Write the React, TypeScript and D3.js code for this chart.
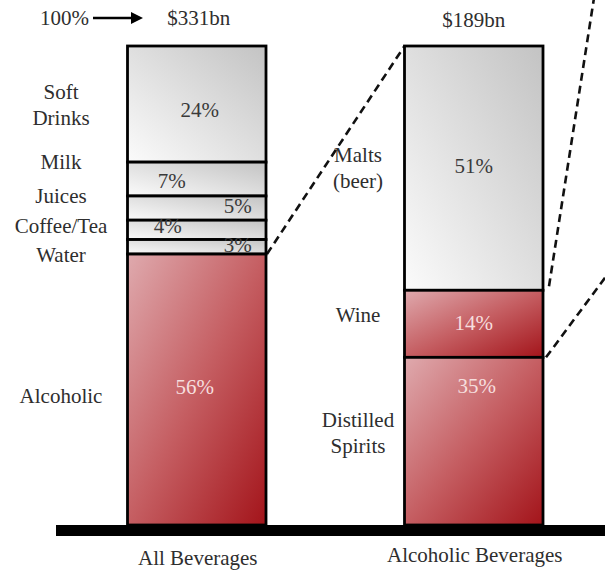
import React from "react";
import * as d3 from "d3";

// Beverage spend, share of total (%)
const allCategories = ["Soft Drinks", "Milk", "Juices", "Coffee/Tea", "Water", "Alcoholic"];
const allValues = [24, 7, 5, 4, 3, 56];
const allTones = ["gray", "gray", "gray", "gray", "gray", "red"];

// Alcoholic beverage spend, share (%)
const alcCategories = ["Malts (beer)", "Wine", "Distilled Spirits"];
const alcValues = [51, 14, 35];
const alcTones = ["gray", "red", "red"];

const barNames = ["All Beverages", "Alcoholic Beverages"];
const barTotals = ["$331bn", "$189bn"];

// category label line breaks
const allLabelLines = [["Soft", "Drinks"], ["Milk"], ["Juices"], ["Coffee/Tea"], ["Water"], ["Alcoholic"]];
const alcLabelLines = [["Malts", "(beer)"], ["Wine"], ["Distilled", "Spirits"]];

const W = 605;
const H = 573;
const FONT = "Liberation Serif, Times New Roman, DejaVu Serif, serif";
const FS = 21;
const TEXT = "#2e2e2e";

const yTop = 46;
const yBase = 525;

// label layout
const allLabelY = [99, 169, 203, 233, 262, 403];
const alcLabelY = [162, 322, 427];
const allPctOffset = [[3, 13], [-25, 9], [41, 5], [-29, 3], [41, 5], [-2, 4]];
const alcPctOffset = [[0, 5], [0, 6], [3, -48]];

type Seg = { name: string; value: number; tone: string; y0: number; y1: number };

function segments(names: string[], values: number[], tones: string[]): Seg[] {
  const total = d3.sum(values);
  const y = d3.scaleLinear().domain([0, total]).range([yBase, yTop]);
  // stack from the bottom up: last category sits on the baseline
  const order = d3.range(values.length).reverse();
  const out: Seg[] = new Array(values.length);
  let acc = 0;
  for (const i of order) {
    const lo = acc;
    acc += values[i];
    out[i] = { name: names[i], value: values[i], tone: tones[i], y0: y(acc), y1: y(lo) };
  }
  return out;
}

export default function App() {
  const x = d3.scaleBand<string>().domain(barNames).range([127.5, 543]).paddingInner(0.5).paddingOuter(0);
  const bw = x.bandwidth();
  const bars = [
    { key: barNames[0], segs: segments(allCategories, allValues, allTones), pct: allPctOffset, lines: allLabelLines, labelY: allLabelY, labelX: 61 },
    { key: barNames[1], segs: segments(alcCategories, alcValues, alcTones), pct: alcPctOffset, lines: alcLabelLines, labelY: alcLabelY, labelX: 358 },
  ];

  const xL = x(barNames[0])!;
  const xR = x(barNames[1])!;
  const leftAlc = bars[0].segs[5];
  const malts = bars[1].segs[0];
  const wine = bars[1].segs[1];

  return (
    <svg width={W} height={H}
      style={{ display: "block", position: "absolute", left: 0, top: 0, background: "#fff", fontFamily: FONT }}>
      <defs>
        <linearGradient id="gGray" x1="1" y1="0" x2="0" y2="1">
          <stop offset="0" stopColor="#c3c3c3" />
          <stop offset="1" stopColor="#fbfbfb" />
        </linearGradient>
        <linearGradient id="gRed" x1="0" y1="0" x2="1" y2="1">
          <stop offset="0" stopColor="#dfaaae" />
          <stop offset="0.5" stopColor="#c55e62" />
          <stop offset="1" stopColor="#a3141a" />
        </linearGradient>
      </defs>

      {/* connectors between the stacks */}
      <g stroke="#111" strokeWidth={2.6} strokeDasharray="8,5" fill="none">
        <line x1={xL + bw + 1} y1={leftAlc.y0} x2={xR} y2={yTop} />
        <line x1={xR + bw + 6} y1={malts.y1 - 4} x2={594} y2={-2} />
        <line x1={xR + bw + 3} y1={wine.y1} x2={612} y2={wine.y1 - 89} />
      </g>

      {bars.map((b) => {
        const bx = x(b.key)!;
        const cx = bx + bw / 2;
        return (
          <g key={b.key}>
            {b.segs.map((s) => (
              <rect key={s.name} x={bx} y={s.y0} width={bw} height={s.y1 - s.y0}
                fill={s.tone === "red" ? "url(#gRed)" : "url(#gGray)"} stroke="#000" strokeWidth={2.8} />
            ))}
            {b.segs.map((s, i) => (
              <text key={s.name + "p"} x={cx + b.pct[i][0]} y={(s.y0 + s.y1) / 2 + b.pct[i][1]}
                textAnchor="middle" fontSize={FS}
                fill={s.tone === "red" ? "#f6dede" : "#3a3a3a"}>
                {s.value}%
              </text>
            ))}
            {b.lines.map((ls, i) => (
              <text key={"l" + i} x={b.labelX} y={b.labelY[i]} textAnchor="middle" fontSize={FS} fill={TEXT}>
                {ls.map((t, j) => (
                  <tspan key={j} x={b.labelX} dy={j === 0 ? 0 : 26}>{t}</tspan>
                ))}
              </text>
            ))}
            <text x={cx + 1} y={b.key === barNames[0] ? 565 : 562} textAnchor="middle" fontSize={FS} fill={TEXT}>
              {b.key}
            </text>
          </g>
        );
      })}

      {/* totals */}
      <text x={xL + bw / 2 + 2} y={25} textAnchor="middle" fontSize={FS} fill={TEXT}>{barTotals[0]}</text>
      <text x={xR + bw / 2} y={27} textAnchor="middle" fontSize={FS} fill={TEXT}>{barTotals[1]}</text>
      <text x={40} y={25} fontSize={FS} fill={TEXT}>100%</text>
      <line x1={93} y1={18} x2={134} y2={18} stroke="#000" strokeWidth={2.6} />
      <path d="M131,12 L143,18 L131,24 Z" fill="#000" />

      {/* ground line */}
      <rect x={56} y={yBase} width={W - 56} height={11} fill="#000" />
    </svg>
  );
}
